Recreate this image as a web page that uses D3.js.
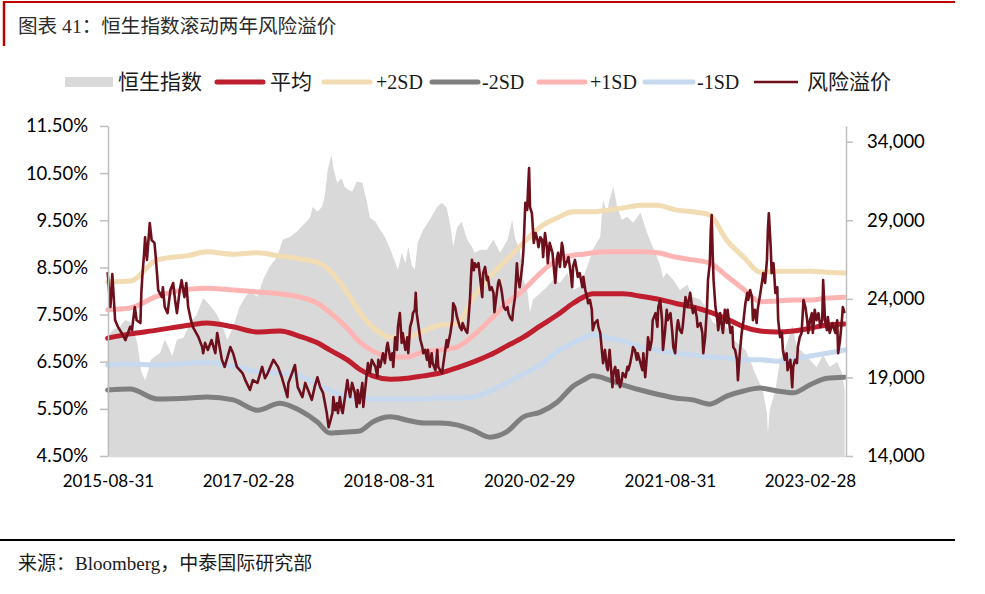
<!DOCTYPE html>
<html><head><meta charset="utf-8">
<script src="https://cdnjs.cloudflare.com/ajax/libs/d3/7.8.5/d3.min.js"></script>
<style>
body{margin:0;background:#fff;}
svg{display:block;}
</style></head>
<body>
<svg id="chart" width="985" height="594"></svg>
<script>
// ---------- DATA ----------
const titleText = "图表 41：恒生指数滚动两年风险溢价";
const sourceText = "来源：Bloomberg，中泰国际研究部";
const legendLabels = ["恒生指数","平均","+2SD","-2SD","+1SD","-1SD","风险溢价"];
const xTickLabels = ["2015-08-31","2017-02-28","2018-08-31","2020-02-29","2021-08-31","2023-02-28"];
const leftTicks = [4.5,5.5,6.5,7.5,8.5,9.5,10.5,11.5];
const rightTicks = [14000,19000,24000,29000,34000];

// band dates (decimal years)
const bandT = [2015.66,2015.90,2016.19,2016.54,2016.72,2017.00,2017.26,2017.50,2017.71,2017.90,2018.03,2018.22,2018.35,2018.49,2018.68,2018.86,2019.03,2019.21,2019.39,2019.56,2019.74,2019.92,2020.10,2020.28,2020.46,2020.63,2020.74,2020.84,2021.02,2021.16,2021.35,2021.53,2021.72,2021.91,2022.09,2022.27,2022.45,2022.63,2022.81,2022.98,2023.16,2023.34,2023.53];
const meanV   = [7.00,7.09,7.17,7.28,7.32,7.24,7.13,7.15,7.04,6.90,6.75,6.54,6.34,6.20,6.13,6.15,6.20,6.26,6.37,6.49,6.64,6.83,7.02,7.26,7.49,7.74,7.87,7.94,7.94,7.94,7.89,7.83,7.74,7.66,7.55,7.41,7.24,7.15,7.13,7.15,7.21,7.28,7.30];
const plus2V  = [8.19,8.21,8.66,8.76,8.83,8.78,8.81,8.74,8.68,8.61,8.44,7.96,7.55,7.24,7.02,7.02,7.15,7.28,7.30,7.85,8.30,8.66,9.02,9.36,9.55,9.68,9.68,9.68,9.72,9.76,9.82,9.82,9.72,9.68,9.61,9.08,8.72,8.40,8.42,8.42,8.42,8.40,8.38];
const minus2V = [5.90,5.92,5.71,5.73,5.75,5.69,5.47,5.62,5.47,5.22,4.99,5.01,5.03,5.22,5.33,5.26,5.20,5.20,5.16,5.05,4.90,5.01,5.33,5.43,5.64,5.98,6.11,6.20,6.11,6.01,5.90,5.81,5.73,5.69,5.60,5.77,5.88,5.94,5.88,5.84,6.01,6.15,6.17];
const plus1V  = [7.60,7.64,7.89,8.04,8.06,8.02,7.98,7.94,7.87,7.74,7.55,7.21,6.92,6.73,6.60,6.60,6.71,6.75,6.81,7.05,7.38,7.74,8.02,8.38,8.66,8.76,8.78,8.81,8.83,8.83,8.83,8.81,8.72,8.66,8.59,8.32,8.04,7.77,7.79,7.81,7.81,7.85,7.87];
const minus1V = [6.43,6.45,6.43,6.47,6.49,6.41,6.30,6.26,6.20,6.01,5.90,5.75,5.71,5.71,5.71,5.71,5.71,5.73,5.73,5.75,5.88,6.05,6.24,6.43,6.71,6.90,7.00,7.07,7.00,6.94,6.81,6.75,6.68,6.64,6.60,6.58,6.54,6.54,6.51,6.56,6.62,6.68,6.75];

// Hang Seng Index [decimal year, level]
const hsi = [[2015.66,21640],[2015.72,22030],[2015.79,22220],[2015.85,22660],[2015.90,22530],[2015.95,21830],[2015.98,21070],[2016.02,19350],[2016.06,18840],[2016.09,19350],[2016.12,20110],[2016.17,20370],[2016.22,20560],[2016.27,21390],[2016.30,21070],[2016.35,20370],[2016.40,21390],[2016.47,21520],[2016.54,22470],[2016.61,22980],[2016.68,24060],[2016.73,23740],[2016.79,23300],[2016.83,22980],[2016.88,22340],[2016.94,21390],[2017.00,22220],[2017.07,23490],[2017.13,24130],[2017.18,24450],[2017.26,24130],[2017.32,25210],[2017.39,26040],[2017.47,26670],[2017.53,27760],[2017.61,27950],[2017.68,28270],[2017.75,28710],[2017.82,29160],[2017.85,29860],[2017.90,29540],[2017.95,29860],[2017.98,30620],[2018.01,32220],[2018.05,33170],[2018.07,32340],[2018.11,31390],[2018.14,31580],[2018.16,31640],[2018.19,31130],[2018.23,30940],[2018.27,30810],[2018.32,31450],[2018.38,31390],[2018.43,30110],[2018.46,29160],[2018.52,28900],[2018.57,28390],[2018.62,27950],[2018.68,27120],[2018.73,26360],[2018.76,25850],[2018.80,26930],[2018.84,26290],[2018.87,27310],[2018.91,26100],[2018.94,25850],[2018.97,27570],[2019.03,28390],[2019.10,29030],[2019.18,29860],[2019.23,30110],[2019.28,29800],[2019.32,28650],[2019.35,27310],[2019.39,28520],[2019.44,28900],[2019.50,27760],[2019.55,27310],[2019.58,26930],[2019.64,27120],[2019.71,27120],[2019.78,27760],[2019.85,26930],[2019.93,27760],[2019.98,29030],[2020.01,27880],[2020.06,27120],[2020.10,25210],[2020.14,24570],[2020.17,23110],[2020.20,23940],[2020.28,24380],[2020.35,24760],[2020.42,25210],[2020.49,25020],[2020.57,25660],[2020.63,24570],[2020.70,24760],[2020.78,26040],[2020.84,27120],[2020.92,27950],[2020.95,30300],[2020.99,29480],[2021.02,30300],[2021.06,31130],[2021.10,29860],[2021.15,29030],[2021.21,29220],[2021.27,28840],[2021.35,29480],[2021.42,28200],[2021.48,27310],[2021.56,26160],[2021.59,25340],[2021.63,25660],[2021.70,25210],[2021.77,24570],[2021.85,24890],[2021.91,24130],[2021.99,23940],[2022.06,23300],[2022.12,22530],[2022.20,22220],[2022.27,22220],[2022.34,21390],[2022.41,21070],[2022.47,20750],[2022.52,20110],[2022.57,19290],[2022.63,18520],[2022.66,18010],[2022.70,16740],[2022.71,15460],[2022.73,16930],[2022.79,18200],[2022.84,20110],[2022.91,21070],[2022.97,22340],[2023.02,20940],[2023.09,20560],[2023.16,20110],[2023.23,19670],[2023.30,20430],[2023.37,19670],[2023.45,19990],[2023.50,19290],[2023.53,18200]];

// Rolling risk premium [decimal year, %]
const riskPremium = [[2015.66,8.40],[2015.69,7.66],[2015.71,8.36],[2015.74,7.38],[2015.77,7.24],[2015.81,7.11],[2015.85,6.96],[2015.90,7.24],[2015.92,7.17],[2015.95,7.66],[2015.97,7.38],[2016.01,7.32],[2016.02,7.96],[2016.03,8.30],[2016.05,8.81],[2016.06,9.14],[2016.08,8.66],[2016.11,9.44],[2016.13,9.08],[2016.16,9.02],[2016.17,8.81],[2016.19,8.30],[2016.20,8.02],[2016.24,7.87],[2016.25,8.08],[2016.27,7.66],[2016.30,7.53],[2016.33,8.02],[2016.36,8.17],[2016.38,7.81],[2016.40,7.53],[2016.43,8.02],[2016.45,8.23],[2016.48,7.87],[2016.50,8.17],[2016.52,7.66],[2016.55,7.38],[2016.57,7.24],[2016.63,7.02],[2016.67,6.81],[2016.68,6.68],[2016.70,6.90],[2016.73,6.75],[2016.77,6.96],[2016.81,6.68],[2016.83,7.11],[2016.88,6.54],[2016.91,6.39],[2016.97,6.81],[2017.00,6.68],[2017.04,6.39],[2017.10,6.26],[2017.13,6.11],[2017.18,5.90],[2017.21,6.11],[2017.26,6.05],[2017.29,6.26],[2017.31,6.39],[2017.34,6.15],[2017.37,6.26],[2017.43,6.54],[2017.48,6.39],[2017.52,6.17],[2017.55,5.96],[2017.58,5.75],[2017.59,6.05],[2017.63,6.26],[2017.66,6.43],
[2017.69,5.96],[2017.74,5.75],[2017.77,6.05],[2017.80,5.90],[2017.84,5.69],[2017.87,5.96],[2017.90,6.17],[2017.93,5.96],[2017.96,5.84],[2018.00,5.41],[2018.02,5.11],[2018.06,5.41],[2018.07,5.75],[2018.09,5.47],[2018.11,5.62],[2018.12,5.41],[2018.14,5.75],[2018.16,5.47],[2018.17,5.41],[2018.22,6.11],[2018.23,5.96],[2018.25,5.75],[2018.27,6.05],[2018.30,5.84],[2018.32,5.54],[2018.33,5.90],[2018.35,5.62],[2018.38,6.05],[2018.39,5.54],[2018.42,6.11],[2018.44,6.47],[2018.46,6.26],[2018.48,6.54],[2018.52,6.39],[2018.54,6.17],[2018.55,6.54],[2018.57,6.39],[2018.60,6.68],[2018.62,6.47],[2018.64,6.81],[2018.65,6.90],[2018.68,6.54],[2018.70,6.68],[2018.71,6.39],[2018.73,7.02],[2018.75,6.75],[2018.76,7.24],[2018.78,7.53],[2018.80,6.90],[2018.81,7.11],[2018.84,6.75],[2018.86,7.02],[2018.87,6.68],[2018.89,7.24],[2018.91,7.38],[2018.92,7.53],[2018.94,7.60],[2018.95,7.96],[2018.96,7.53],[2019.00,6.96],[2019.02,6.81],[2019.03,6.68],[2019.05,6.75],[2019.07,6.54],[2019.08,6.75],[2019.10,6.39],[2019.12,6.68],[2019.13,6.47],[2019.16,6.32],[2019.18,6.75],[2019.19,6.39],[2019.21,6.32],[2019.23,6.26],[2019.24,6.39],[2019.26,6.68],[2019.28,6.96],[2019.29,6.81],[2019.32,7.11],[2019.34,7.38],[2019.35,7.74],[2019.37,7.66],[2019.39,7.45],[2019.40,7.38],[2019.42,7.24],[2019.44,7.17],[2019.45,7.32],[2019.48,7.17],[2019.50,7.11],[2019.51,7.32],[2019.53,7.87],[2019.54,8.30],[2019.55,8.66],[2019.57,8.44],[2019.58,8.59],
[2019.60,8.51],[2019.62,8.59],[2019.64,8.23],[2019.66,7.87],[2019.67,8.38],[2019.69,8.51],[2019.71,8.23],[2019.72,8.30],[2019.74,8.02],[2019.76,8.08],[2019.78,7.96],[2019.79,7.55],[2019.81,7.87],[2019.83,8.17],[2019.84,8.23],[2019.86,8.08],[2019.87,7.96],[2019.89,7.66],[2019.91,7.60],[2019.93,7.66],[2019.94,7.53],[2019.96,7.43],[2019.98,7.38],[2019.99,7.60],[2020.01,7.87],[2020.03,8.59],[2020.04,8.30],[2020.06,8.08],[2020.09,8.59],[2020.10,8.87],[2020.12,9.87],[2020.14,9.72],[2020.15,10.21],[2020.16,10.61],[2020.17,9.78],[2020.19,9.65],[2020.20,9.36],[2020.21,9.02],[2020.23,9.23],[2020.25,9.08],[2020.26,8.93],[2020.28,9.14],[2020.30,9.08],[2020.31,8.72],[2020.33,9.23],[2020.35,8.93],[2020.36,8.59],[2020.38,9.02],[2020.41,8.81],[2020.42,8.59],[2020.44,8.17],[2020.46,8.72],[2020.47,8.81],[2020.49,8.51],[2020.51,9.02],[2020.52,8.93],[2020.54,8.51],[2020.57,8.66],[2020.58,8.72],[2020.60,8.44],[2020.62,8.08],[2020.63,8.51],[2020.65,8.66],[2020.67,8.44],[2020.68,8.30],[2020.70,8.38],[2020.73,8.08],[2020.74,8.30],[2020.76,8.02],[2020.78,7.87],[2020.79,7.74],[2020.81,7.81],[2020.83,7.60],[2020.84,7.17],[2020.86,7.32],[2020.89,7.38],[2020.90,7.24],[2020.92,7.11],[2020.94,6.68],[2020.95,6.47],[2020.97,6.75],[2020.99,6.39],[2021.00,6.32],[2021.02,6.75],[2021.05,5.96],[2021.06,6.26],[2021.08,6.39],[2021.10,6.05],[2021.11,6.32],[2021.13,5.96],[2021.15,6.11],[2021.16,6.26],[2021.19,6.17],[2021.21,6.39],[2021.22,6.32],[2021.24,6.47],[2021.26,6.68],[2021.27,6.81],[2021.29,6.75],[2021.31,6.54],[2021.32,6.68],[2021.35,6.47],[2021.37,6.32],[2021.38,6.68],[2021.40,6.17],[2021.42,6.68],[2021.43,7.02],[2021.45,6.75],[2021.47,6.96],[2021.48,7.38],[2021.51,7.53],[2021.53,7.24],[2021.54,7.66],[2021.56,7.81],[2021.58,7.38],[2021.59,6.75],[2021.61,7.11],
[2021.63,7.60],[2021.64,7.38],[2021.67,7.53],[2021.69,7.11],[2021.70,6.81],[2021.72,6.68],[2021.74,7.24],[2021.75,7.38],[2021.77,7.17],[2021.79,7.11],[2021.80,7.24],[2021.83,7.87],[2021.85,7.66],[2021.86,7.74],[2021.88,7.96],[2021.90,7.66],[2021.91,7.53],[2021.93,7.66],[2021.95,7.45],[2021.96,7.24],[2021.99,7.32],[2022.01,7.11],[2022.02,6.68],[2022.04,7.02],[2022.06,7.66],[2022.07,8.23],[2022.09,8.59],[2022.10,9.29],[2022.11,9.61],[2022.12,8.81],[2022.13,8.23],[2022.15,7.66],[2022.17,7.38],[2022.18,7.17],[2022.20,7.53],[2022.22,7.24],[2022.23,7.11],[2022.25,7.60],[2022.27,7.32],[2022.28,7.60],[2022.31,7.11],[2022.33,7.24],[2022.34,6.81],[2022.36,6.75],[2022.38,6.54],[2022.39,6.11],[2022.41,6.68],[2022.43,7.11],[2022.45,7.38],[2022.47,7.74],[2022.49,7.96],[2022.50,7.81],[2022.52,8.02],[2022.54,7.87],[2022.55,7.38],[2022.57,7.60],[2022.59,7.32],[2022.60,7.60],[2022.63,7.96],[2022.65,8.23],[2022.66,8.38],[2022.68,8.17],[2022.70,8.66],[2022.71,9.29],[2022.72,9.65],[2022.74,8.93],[2022.75,8.38],[2022.77,8.59],[2022.79,7.96],[2022.81,8.08],[2022.82,7.38],[2022.84,7.02],[2022.86,7.11],[2022.87,6.75],[2022.89,6.54],[2022.91,6.68],[2022.92,6.32],[2022.95,6.54],[2022.97,5.96],[2022.98,6.39],[2023.00,6.54],[2023.02,6.47],[2023.03,6.81],[2023.05,7.02],[2023.07,7.11],[2023.09,7.81],[2023.11,7.66],[2023.13,7.38],[2023.14,7.11],[2023.16,7.38],[2023.18,7.53],[2023.19,7.11],[2023.21,7.60],[2023.23,7.38],[2023.25,7.53],[2023.27,7.24],[2023.29,7.38],[2023.30,8.23],[2023.32,7.38],[2023.34,7.17],[2023.35,7.45],[2023.37,7.11],[2023.40,7.32],[2023.41,7.24],[2023.43,7.11],[2023.45,7.38],[2023.46,6.68],[2023.48,6.96],[2023.50,7.38],[2023.51,7.66],[2023.53,7.53]];

// ---------- LAYOUT / STYLE ----------
const W = 985, H = 594;
const plot = {left:108, right:846, top:126, bottom:456};
const colors = {area:"#D9D9D9", mean:"#BE1E2D", p2:"#F2DCB4", m2:"#7F7F7F", p1:"#FFB4B4", m1:"#C6D9EF", rp:"#6E101C", axis:"#BFBFBF"};
const cjkFont = "'Liberation Serif','Noto Sans CJK SC',serif";
const numFont = "Lato,'Open Sans',sans-serif";

function decYear(s){
  const d = new Date(s + "T00:00:00Z");
  const y = d.getUTCFullYear();
  const a = Date.UTC(y,0,1), b = Date.UTC(y+1,0,1);
  return y + (d - a)/(b - a);
}

const svg = d3.select("#chart");
svg.append("rect").attr("width",W).attr("height",H).attr("fill","#fff");

// scales
const x = d3.scaleLinear().domain([2015.664, 2023.544]).range([plot.left, plot.right]);
const yL = d3.scaleLinear().domain([4.5, 11.5]).range([plot.bottom, plot.top]);
const yR = d3.scaleLinear().domain([14000, 35000]).range([plot.bottom, plot.top]);

// title decoration
svg.append("line").attr("x1",3).attr("x2",955).attr("y1",2).attr("y2",2).attr("stroke","#C00000").attr("stroke-width",2);
svg.append("line").attr("x1",4).attr("x2",4).attr("y1",1).attr("y2",46).attr("stroke","#C00000").attr("stroke-width",2.5);
svg.append("text").attr("x",18).attr("y",33).text(titleText)
  .attr("font-family",cjkFont).attr("font-size",19.6).attr("fill","#2b2b2b");

// area (HSI, right axis)
const area = d3.area().x(d=>x(d[0])).y0(yR(14000)).y1(d=>yR(d[1])).curve(d3.curveLinear);
svg.append("path").datum(hsi).attr("d",area).attr("fill",colors.area);

// bands
function bandLine(vals){ return d3.line().x((d,i)=>x(bandT[i])).y(d=>yL(d)).curve(d3.curveMonotoneX)(vals); }
const bands = [
  {v:meanV, c:colors.mean},
  {v:plus2V, c:colors.p2},
  {v:minus2V, c:colors.m2},
  {v:plus1V, c:colors.p1},
  {v:minus1V, c:colors.m1}
];
bands.forEach(b=>{
  svg.append("path").attr("d",bandLine(b.v)).attr("fill","none").attr("stroke",b.c)
    .attr("stroke-width",5).attr("stroke-linejoin","round").attr("stroke-linecap","round");
});

// risk premium
const rpLine = d3.line().x(d=>x(d[0])).y(d=>yL(d[1]));
svg.append("path").datum(riskPremium).attr("d",rpLine).attr("fill","none").attr("stroke",colors.rp)
  .attr("stroke-width",2.6).attr("stroke-linejoin","round");

// axes
const axL = svg.append("g").attr("transform",`translate(${plot.left},0)`)
  .call(d3.axisLeft(yL).tickValues(leftTicks).tickFormat(d=>d.toFixed(2)+"%").tickSize(8).tickSizeOuter(0).tickPadding(12));
const axR = svg.append("g").attr("transform",`translate(${plot.right},0)`)
  .call(d3.axisRight(yR).tickValues(rightTicks).tickFormat(d3.format(",")).tickSize(7).tickSizeOuter(0).tickPadding(14));
const axB = svg.append("g").attr("transform",`translate(0,${plot.bottom})`)
  .call(d3.axisBottom(x).tickValues(xTickLabels.map(decYear)).tickFormat((d,i)=>xTickLabels[i]).tickSize(0).tickSizeOuter(0).tickPadding(19));
[axL,axR,axB].forEach(g=>{
  g.select(".domain").attr("stroke",colors.axis).attr("stroke-width",1.5);
  g.selectAll(".tick line").attr("stroke",colors.axis).attr("stroke-width",1.5);
  g.selectAll(".tick text").attr("font-family",numFont).attr("fill","#000");
});
axL.selectAll(".tick text").attr("font-size",18.5);
axR.selectAll(".tick text").attr("font-size",18.5);
axB.selectAll(".tick text").attr("font-size",17);
axB.select(".domain").attr("stroke","#D9D9D9");

// legend
const legendSw = [[65,113],[215,265],[322,372],[430,480],[537,587],[643,695],[752,800]];
const legendTx = [118,270,376,482,590,697,807];
const legendStyle = [
  {type:"rect", c:colors.area},
  {type:"line", c:colors.mean, w:5},
  {type:"line", c:colors.p2, w:5},
  {type:"line", c:colors.m2, w:5},
  {type:"line", c:colors.p1, w:5},
  {type:"line", c:colors.m1, w:5},
  {type:"line", c:colors.rp, w:2.4}
];
const ly = 82;
legendLabels.forEach((lab,i)=>{
  const s = legendStyle[i], sw = legendSw[i];
  if (s.type==="rect") {
    svg.append("rect").attr("x",sw[0]).attr("y",ly-5).attr("width",sw[1]-sw[0]).attr("height",10).attr("fill",s.c);
  } else {
    svg.append("line").attr("x1",sw[0]+2).attr("x2",sw[1]-2).attr("y1",ly).attr("y2",ly)
      .attr("stroke",s.c).attr("stroke-width",s.w).attr("stroke-linecap",s.w>3?"round":"butt");
  }
  svg.append("text").attr("x",legendTx[i]).attr("y",ly).attr("dy","0.35em").text(lab)
    .attr("font-family",cjkFont).attr("font-size",/[A-Z]/.test(lab)?20:21).attr("fill","#1a1a1a");
});

// footer
svg.append("line").attr("x1",0).attr("x2",955).attr("y1",540).attr("y2",540).attr("stroke","#000").attr("stroke-width",2);
svg.append("text").attr("x",18).attr("y",563).attr("dy","0.35em").text(sourceText)
  .attr("font-family",cjkFont).attr("font-size",19).attr("fill","#1a1a1a");
</script>
</body></html>
